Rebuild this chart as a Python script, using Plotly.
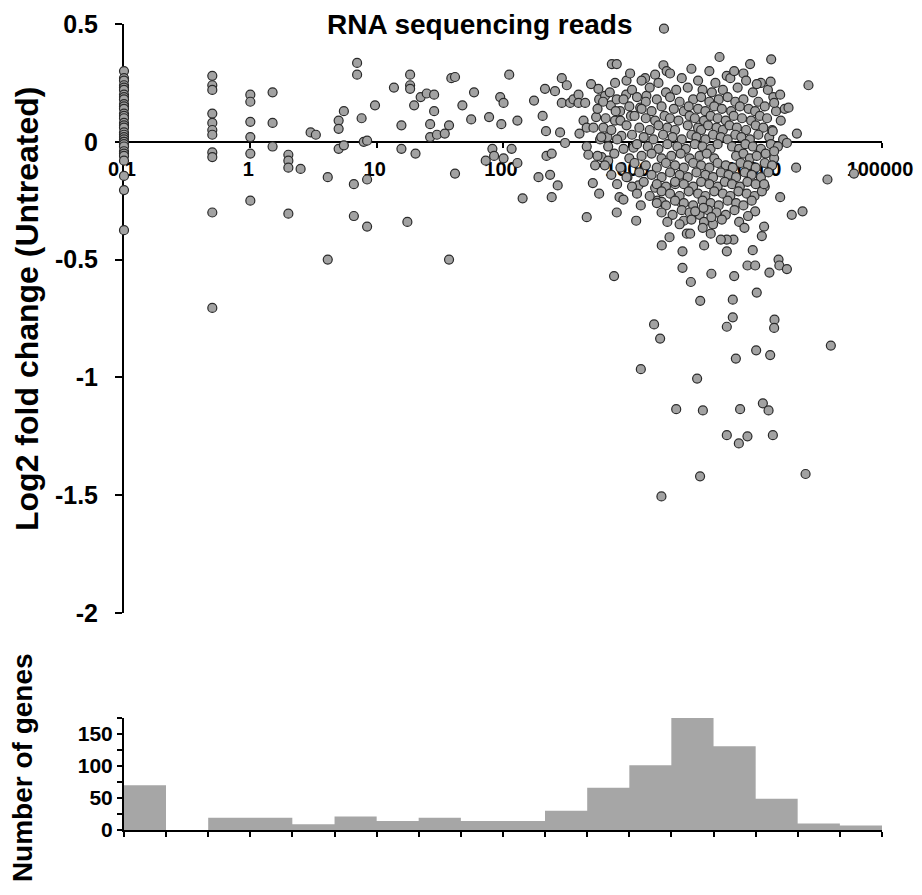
import plotly.graph_objects as go

# genes with no reads are drawn at 0.1
zero_fc = [0.30, 0.27, 0.26, 0.24, 0.23, 0.22, 0.20, 0.19, 0.18, 0.16, 0.15,
           0.14, 0.12, 0.11, 0.10, 0.08, 0.07, 0.06, 0.04, 0.03, 0.02, 0.01,
           0.0, 0.0, -0.01, -0.02, -0.04, -0.05, -0.06, -0.08, -0.145, -0.205,
           -0.375]

low_reads = [
    0.5, 0.5, 0.5, 0.5, 0.5, 0.5, 0.5, 0.5, 0.5, 0.5, 0.5,
    1, 1, 1, 1, 1, 1,
    1.5, 1.5, 1.5,
    2, 2, 2, 2, 2.5, 3.0, 3.3,
    4.1, 4.1, 5.0, 5.0, 5.0, 5.5, 5.5,
    6.6, 6.6, 7.0, 7.0, 7.6, 7.9, 8.4, 8.4, 8.4, 9.7,
    13.7, 15.7, 15.7, 17.5, 18.4, 18.4, 18.4, 19.8, 20.3,
    22.3, 24.9, 26.5, 26.5, 28.5, 28.5, 30, 34.6, 37.4, 37.4,
    39, 41.7, 41.7, 47.7, 56, 59, 73, 77.6, 82.4, 85,
    95, 97, 101, 101, 112, 117, 130, 130, 143,
]
low_fc = [
    0.28, 0.24, 0.22, 0.12, 0.08, 0.05, 0.03, -0.045, -0.065, -0.30, -0.705,
    0.20, 0.17, 0.085, 0.02, -0.05, -0.25,
    0.21, 0.08, -0.02,
    -0.055, -0.08, -0.11, -0.305, -0.115, 0.04, 0.03,
    -0.15, -0.50, 0.09, 0.055, -0.03, 0.13, -0.015,
    -0.18, -0.315, 0.335, 0.285, 0.10, 0.0, 0.005, -0.16, -0.36, 0.155,
    0.23, 0.07, -0.03, -0.34, 0.285, 0.24, 0.225, 0.155, -0.05,
    0.19, 0.205, 0.075, 0.02, 0.20, 0.13, 0.03, 0.035, 0.07, -0.50,
    0.27, 0.275, -0.135, 0.155, 0.095, 0.21, -0.08, 0.105, -0.03, -0.06,
    0.19, 0.075, 0.165, -0.07, 0.285, -0.03, 0.09, -0.09, -0.24,
]

mid_reads = [
    176, 206, 215, 219, 221, 243, 191, 236, 243, 271,
    258, 292, 320, 292, 283, 310, 340, 361, 396, 396,
    447, 403, 434, 498, 460, 460, 474, 460, 514, 536,
    546, 577, 569, 577, 587, 603, 623, 643, 671, 680,
    713, 727, 795, 771, 795, 771, 795, 757, 836, 898,
    845, 866, 944, 950, 966, 1014, 1030, 1080, 1133, 1181,
    1219, 1232, 1334, 1365, 1600, 1806, 1862, 1975, 1880, 2080,
    1600, 1670, 1806, 2523, 2700, 2307, 2635, 2635, 2851, 3069, 3640,
]
mid_fc = [
    0.175, 0.11, 0.225, 0.045, -0.06, -0.05, -0.15, -0.14, -0.235, -0.185,
    0.215, 0.27, 0.24, 0.165, 0.04, -0.005, 0.165, 0.18, 0.20, 0.165,
    0.165, 0.035, 0.09, 0.245, 0.06, -0.02, -0.055, -0.32, -0.175, -0.10,
    0.105, -0.22, 0.225, 0.18, 0.01, -0.065, 0.06, 0.195, 0.02, -0.08,
    0.155, 0.33, 0.33, 0.25, 0.18, 0.09, -0.30, -0.57, -0.235, -0.245,
    0.13, 0.025, 0.20, 0.26, -0.15, 0.29, 0.11, -0.025, -0.335, -0.185,
    0.145, -0.27, 0.27, 0.195, 0.285, -0.44, 0.325, 0.30, 0.48, -0.405,
    -0.195, -0.25, -0.255, -0.255, -0.335, -0.18, -0.465, -0.535, -0.39, -0.595, -0.675,
]

# dense cloud, one line per band of fold change
cloud_reads = [
    2100, 3100, 4300, 5900, 8000,
    1250, 1700, 2600, 3500, 4800, 6300, 8400, 11000,
    700, 1050, 1450, 1950, 2350, 2900, 3800, 4500, 5500, 7200, 9500, 12500,
    620, 900, 1150, 1350, 1650, 2100, 2500, 3200, 3700, 4300, 5100, 6000, 6900, 8000, 10500, 13800,
    560, 780, 1000, 1250, 1500, 1800, 2250, 2700, 2950, 3500, 4000, 4700, 5400, 6400, 7500, 8800, 9900, 11800, 14500, 17000,
    650, 850, 1100, 1350, 1600, 1900, 2100, 2450, 3000, 3300, 3900, 4400, 5000, 5800, 6700, 7800, 9200, 10800, 12300, 15800,
    520, 720, 950, 1200, 1450, 1700, 2000, 2300, 2900, 3500, 3700, 4200, 4900, 5500, 6200, 7100, 8400, 10000, 11500, 13500,
    600, 800, 1050, 1300, 1550, 1850, 2200, 2600, 3100, 3400, 4000, 4600, 5300, 6000, 6900, 7700, 9000, 10500, 12800, 16500,
    680, 900, 1150, 1400, 1700, 2000, 2400, 2800, 3300, 3800, 4400, 5000, 6500, 7400, 8300, 9500, 11000, 13200, 15000,
    560, 760, 1000, 1250, 1500, 1800, 2150, 2550, 3000, 3600, 4100, 4700, 7000, 8000, 9000, 10200, 12000, 14000,
    640, 850, 1100, 1350, 1650, 1950, 2300, 2700, 3200, 3700, 4300, 5000, 5800, 6600, 7600, 8700, 10000, 11800, 13500,
    720, 950, 1200, 1500, 1800, 2100, 2500, 2900, 3400, 4000, 4600, 5300, 6100, 7000, 8200, 9300, 11000, 12600,
    800, 1050, 1300, 1650, 1950, 2300, 2700, 3200, 3700, 4300, 5000, 5700, 6500, 7500, 8600, 10000, 11800,
    1150, 1450, 1800, 2100, 2500, 2950, 3500, 4000, 4700, 5500, 6300, 7300, 8500, 9800, 11200,
    1650, 1950, 2300, 2700, 3200, 3800, 4400, 5100, 6000, 7000, 8000, 9300,
    1800, 2200, 2600, 3000, 3600, 4200, 4900, 5800, 6800,
    2000, 2500, 3100, 3900, 4600, 5400, 7400,
]
cloud_fc = [
    0.29, 0.31, 0.30, 0.28, 0.29,
    0.26, 0.25, 0.27, 0.26, 0.25, 0.27, 0.26, 0.25,
    0.21, 0.22, 0.23, 0.21, 0.22, 0.23, 0.22, 0.21, 0.22, 0.23, 0.21, 0.22,
    0.17, 0.18, 0.19, 0.17, 0.18, 0.19, 0.17, 0.18, 0.19, 0.17, 0.18, 0.19, 0.17, 0.18, 0.17, 0.19,
    0.14, 0.13, 0.15, 0.14, 0.13, 0.15, 0.14, 0.13, 0.15, 0.14, 0.13, 0.15, 0.14, 0.13, 0.15, 0.14, 0.13, 0.15, 0.13, 0.14,
    0.10, 0.09, 0.11, 0.10, 0.09, 0.11, 0.10, 0.09, 0.11, 0.10, 0.09, 0.11, 0.10, 0.09, 0.11, 0.10, 0.09, 0.11, 0.10, 0.09,
    0.06, 0.05, 0.07, 0.06, 0.05, 0.07, 0.06, 0.05, 0.07, 0.06, 0.05, 0.07, 0.06, 0.05, 0.07, 0.06, 0.05, 0.07, 0.06, 0.05,
    0.02, 0.01, 0.03, 0.02, 0.01, 0.03, 0.02, 0.01, 0.03, 0.02, 0.01, 0.03, 0.02, 0.01, 0.03, 0.02, 0.01, 0.03, 0.02, 0.01,
    -0.02, -0.03, -0.01, -0.02, -0.03, -0.01, -0.02, -0.03, -0.01, -0.02, -0.03, -0.01, -0.02, -0.03, -0.01, -0.02, -0.03, -0.01, -0.02,
    -0.06, -0.05, -0.07, -0.06, -0.05, -0.07, -0.06, -0.05, -0.07, -0.06, -0.05, -0.07, -0.06, -0.05, -0.07, -0.06, -0.05, -0.07,
    -0.10, -0.11, -0.09, -0.10, -0.11, -0.09, -0.10, -0.11, -0.09, -0.10, -0.11, -0.09, -0.10, -0.11, -0.09, -0.10, -0.11, -0.09, -0.10,
    -0.14, -0.15, -0.13, -0.14, -0.15, -0.13, -0.14, -0.15, -0.13, -0.14, -0.15, -0.13, -0.14, -0.15, -0.13, -0.14, -0.15, -0.13,
    -0.18, -0.19, -0.17, -0.18, -0.19, -0.17, -0.18, -0.19, -0.17, -0.18, -0.19, -0.17, -0.18, -0.19, -0.17, -0.18, -0.19,
    -0.22, -0.23, -0.21, -0.22, -0.23, -0.21, -0.22, -0.23, -0.21, -0.22, -0.23, -0.21, -0.22, -0.23, -0.21,
    -0.26, -0.27, -0.25, -0.26, -0.27, -0.25, -0.26, -0.27, -0.25, -0.26, -0.27, -0.25,
    -0.30, -0.31, -0.29, -0.30, -0.31, -0.29, -0.30, -0.31, -0.29,
    -0.34, -0.35, -0.33, -0.34, -0.35, -0.33, -0.34,
]

tail_reads = [
    5176, 9036, 13270, 6760, 13130, 26180, 10200, 15630, 18200, 14000,
    21200, 17670, 13650, 14000, 20900, 37000, 60000, 15630, 19300, 23500,
    11660, 11660, 11190, 8150, 9910, 8700, 6670, 5910, 5300, 5910,
    9480, 3910, 4410, 3810, 4460, 3860, 3320, 3030, 8610, 9910,
    15170, 15400, 17670, 12850, 6760, 4460, 10200, 6590, 6590, 14090,
    14000, 1570, 1753, 5910, 39360, 10090, 13030, 6970, 1233, 3440,
    2350, 3820, 7530, 11400, 12650, 5910, 8610, 7360, 13680, 3630,
    24830, 1795,
]
tail_fc = [
    0.36, 0.33, 0.35, 0.30, 0.255, 0.24, 0.245, 0.20, 0.145, 0.165,
    0.035, -0.005, 0.045, -0.04, -0.11, -0.16, -0.135, -0.235, -0.31, -0.295,
    -0.18, -0.36, -0.40, -0.365, -0.295, -0.315, -0.415, -0.415, -0.415, -0.465,
    -0.46, -0.44, -0.39, -0.365, -0.32, -0.28, -0.295, -0.39, -0.525, -0.525,
    -0.50, -0.525, -0.54, -0.555, -0.57, -0.56, -0.64, -0.67, -0.745, -0.755,
    -0.79, -0.775, -0.835, -0.785, -0.865, -0.885, -0.905, -0.92, -0.965, -1.005,
    -1.135, -1.14, -1.135, -1.11, -1.14, -1.245, -1.25, -1.28, -1.245, -1.42,
    -1.41, -1.505,
]

# histogram of genes per read bin (1/3 decade)
hist_edges = [0.1, 0.215, 0.464, 1, 2.15, 4.64, 10, 21.5, 46.4, 100, 215,
              464, 1000, 2150, 4640, 10000, 21500, 46400, 100000]
hist_counts = [70, 0, 19, 19, 9, 21, 14, 19, 14, 14, 30, 66, 101, 176, 131,
               49, 10, 7]

x_tickvals = [0.1, 1, 10, 100, 1000, 10000, 100000]
x_ticktext = ['0.1', '1', '10', '100', '1000', '10000', '100000']
y_tickvals = [-2, -1.5, -1, -0.5, 0, 0.5]
y_ticktext = ['-2', '-1.5', '-1', '-0.5', '0', '0.5']
h_tickvals = [0, 25, 50, 75, 100, 125, 150, 175]
h_ticktext = ['0', '', '50', '', '100', '', '150', '']

FONT = 'Liberation Sans, Arial, sans-serif'

reads = [0.1] * len(zero_fc) + low_reads + mid_reads + cloud_reads + tail_reads
fold = zero_fc + low_fc + mid_fc + cloud_fc + tail_fc

y_range = [-2, 0.5]
top_domain = [0.2692, 1.0]
hist_domain = [0.0, 0.139]
# x axis crosses the fold change axis at 0
x_pos = top_domain[0] + (0 - y_range[0]) / (y_range[1] - y_range[0]) * (top_domain[1] - top_domain[0])

fig = go.Figure()

fig.add_trace(go.Scatter(
    x=reads, y=fold, mode='markers',
    marker=dict(size=9, color='#a2a2a2', line=dict(color='#2a2a2a', width=1.2)),
    xaxis='x', yaxis='y', cliponaxis=False, showlegend=False,
))

fig.add_trace(go.Scatter(
    x=hist_edges, y=hist_counts + [hist_counts[-1]], mode='lines',
    line=dict(shape='hv', width=0, color='#a6a6a6'),
    fill='tozeroy', fillcolor='#a6a6a6',
    xaxis='x2', yaxis='y2', showlegend=False,
))

axis_common = dict(showgrid=False, zeroline=False, showline=True, linecolor='black',
                   linewidth=2, ticks='outside', tickcolor='black', tickwidth=2,
                   layer='below traces', automargin=False)

# the page body adds 8px around the figure, so the figure is kept smaller
# to avoid scrollbars
fig.update_layout(
    width=914, height=879,
    margin=dict(l=116, r=40, t=16, b=57),
    paper_bgcolor='white', plot_bgcolor='white',
    xaxis=dict(type='log', range=[-1, 5], domain=[0, 1], anchor='free', position=x_pos,
               tickvals=x_tickvals, ticktext=x_ticktext, ticklen=5, ticklabelstandoff=4,
               ticklabelshift=-2,
               tickfont=dict(family=FONT, size=20, color='black', weight='bold'),
               **axis_common),
    yaxis=dict(range=y_range, domain=top_domain, anchor='x',
               tickvals=y_tickvals, ticktext=y_ticktext, ticklen=7, ticklabelstandoff=12,
               tickfont=dict(family=FONT, size=25, color='black', weight='bold'),
               **axis_common),
    xaxis2=dict(type='log', range=[-1, 5], domain=[0, 1], anchor='y2',
                tickvals=hist_edges, showticklabels=False, ticklen=5,
                **axis_common),
    yaxis2=dict(range=[0, 175], domain=hist_domain, anchor='x2',
                tickvals=h_tickvals, ticktext=h_ticktext, ticklen=5, ticklabelstandoff=0,
                tickfont=dict(family=FONT, size=21, color='black', weight='bold'),
                **axis_common),
    annotations=[
        dict(text='<b>RNA sequencing reads</b>', xref='paper', yref='paper',
             x=0.469, y=1.0, xanchor='center', yanchor='middle', showarrow=False,
             font=dict(family=FONT, size=28, color='black')),
        dict(text='<b>Log2 fold change (Untreated)</b>', xref='paper', yref='paper',
             x=-0.128, y=0.6464, xanchor='center', yanchor='middle', textangle=-90,
             showarrow=False, font=dict(family=FONT, size=32, color='black')),
        dict(text='<b>Number of genes</b>', xref='paper', yref='paper',
             x=-0.1346, y=0.078, xanchor='center', yanchor='middle', textangle=-90,
             showarrow=False, font=dict(family=FONT, size=28, color='black')),
    ],
)

fig.write_html("out.html")
